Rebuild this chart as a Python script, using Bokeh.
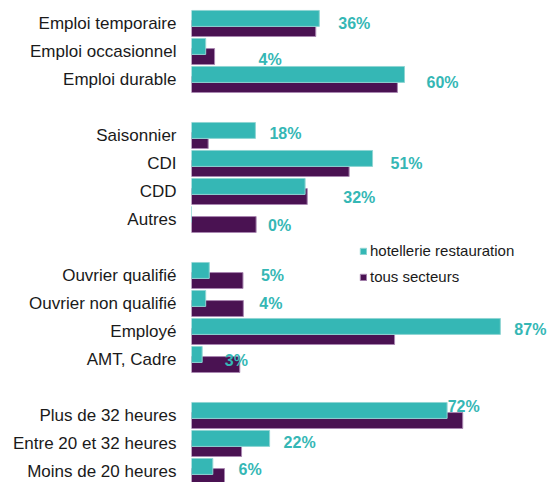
from bokeh.plotting import figure
from bokeh.models import Range1d, FixedTicker, ColumnDataSource, Legend, LegendItem
from bokeh.core.properties import value
from bokeh.embed import file_html
from bokeh.resources import INLINE

# ---- data ----
groups = [
    ["Emploi temporaire", "Emploi occasionnel", "Emploi durable"],
    ["Saisonnier", "CDI", "CDD", "Autres"],
    ["Ouvrier qualifié", "Ouvrier non qualifié", "Employé", "AMT, Cadre"],
    ["Plus de 32 heures", "Entre 20 et 32 heures", "Moins de 20 heures"],
]
hotellerie = [36, 4, 60, 18, 51, 32, 0, 5, 4, 87, 3, 72, 22, 6]
tous_secteurs = [35, 6.5, 58, 4.7, 44.4, 32.6, 18.2, 14.5, 14.6, 57.2, 13.6, 76.4, 14.1, 9.3]
series_names = ["hotellerie restauration", "tous secteurs"]

# label nudges in screen pixels (styling)
label_dx = [5, 30, 8, 0, 4, 22, -2, 4, 2, 0, -29, -29, 0, 0]
label_dy = [0, 8, 3, -2, 0, 6, 6, 0, 0, -2, 1, -9, -1, -2]

TEAL = "#35B7B5"
PURPLE = "#4A1252"

# slot positions (one empty slot between groups)
cats, ypos = [], []
slot = 0
for gi, g in enumerate(groups):
    for c in g:
        cats.append(c)
        ypos.append(slot)
        slot += 1
    slot += 1

off = 0.18
bh = 0.57
src = ColumnDataSource(dict(
    y=ypos,
    yt=[y - off for y in ypos],
    yp=[y + off for y in ypos],
    h=hotellerie,
    t=tous_secteurs,
    lx=[max(a, b) for a, b in zip(hotellerie, tous_secteurs)],
    lab=[f"{v:.0f}%" for v in hotellerie],
))

W, H = 547, 482
p = figure(width=W, height=H, output_backend="svg", toolbar_location=None,
           x_range=Range1d(0, 100.28), y_range=Range1d(16.393, -0.821),
           min_border_left=191, min_border_right=0, min_border_top=0,
           min_border_bottom=0, outline_line_color=None)
p.background_fill_color = None
p.border_fill_color = "white"

rp = p.hbar(y="yp", left=0, right="t", height=bh, source=src,
            fill_color=PURPLE, line_color="#A886B0", line_width=1)
rt = p.hbar(y="yt", left=0, right="h", height=bh, source=src,
            fill_color=TEAL, line_color="#8FD5D3", line_width=1)

# percentage labels with per-label nudges
for i in range(len(cats)):
    p.text(x=[src.data["lx"][i]], y=[ypos[i]], text=[src.data["lab"][i]],
           x_offset=14 + label_dx[i], y_offset=label_dy[i],
           text_font=value("Liberation Sans"), text_font_style="bold",
           text_font_size="16px", text_color=TEAL,
           text_baseline="middle", text_align="left")

p.xaxis.visible = False
p.xgrid.visible = False
p.ygrid.visible = False
ax = p.yaxis[0]
ax.ticker = FixedTicker(ticks=ypos)
ax.major_label_overrides = {y: c for y, c in zip(ypos, cats)}
ax.major_label_text_font = "Liberation Sans"
ax.major_label_text_font_size = "17px"
ax.major_label_text_color = "#1a1a1a"
ax.major_label_standoff = 9
ax.major_tick_line_color = None
ax.minor_tick_line_color = None
ax.axis_line_color = None

legend = Legend(items=[LegendItem(label=series_names[0], renderers=[rt]),
                       LegendItem(label=series_names[1], renderers=[rp])],
                location=(168, 197), orientation="vertical",
                glyph_width=8, glyph_height=8, label_height=8,
                label_standoff=3, spacing=9, padding=0, margin=0,
                label_text_font="Liberation Sans", label_text_font_size="15px",
                label_text_color="#1a1a1a",
                border_line_color=None, background_fill_alpha=0)
p.add_layout(legend, "center")

open("out.html", "w").write(file_html(p, INLINE))
